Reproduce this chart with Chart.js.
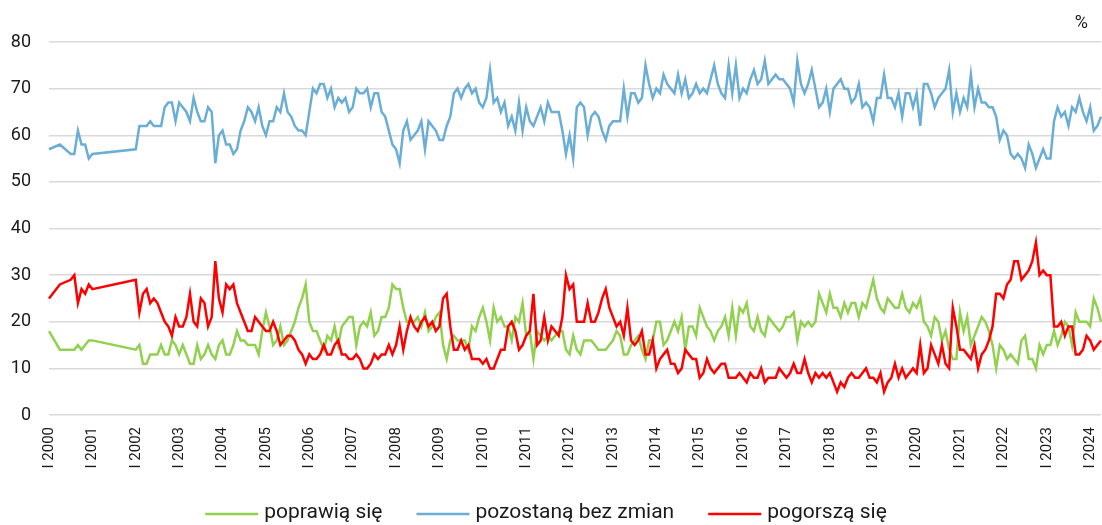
<!DOCTYPE html>
<html lang="pl">
<head>
<meta charset="utf-8">
<title>Oczekiwania gospodarstw domowych</title>
<script src="https://cdn.jsdelivr.net/npm/chart.js@4.4.1/dist/chart.umd.min.js"></script>
<style>
    html, body { margin: 0; padding: 0; background: #ffffff; }
    #wrap { position: relative; width: 1102px; height: 525px; }
</style>
</head>
<body>
<div id="wrap"><canvas id="expChart"></canvas></div>
<script>
// miesiące: I 2000 ... IV 2024
const firstYear = 2000;
const monthNames = ['I', 'II', 'III', 'IV', 'V', 'VI', 'VII', 'VIII', 'IX', 'X', 'XI', 'XII'];
const monthCount = 292;
const months = [];
for (let i = 0; i < monthCount; i++) {
    months.push(monthNames[i % 12] + ' ' + (firstYear + Math.floor(i / 12)));
}

const yTicks = [0, 10, 20, 30, 40, 50, 60, 70, 80];

// poprawią się
const better = [
    18, null, null, 14, null, null, 14, 14, 15, 14, 15, 16,
    16, null, null, null, null, null, null, null, null, null, null, null,
    14, 15, 11, 11, 13, 13, 13, 15, 13, 13, 16, 15,
    13, 15, 13, 11, 11, 15, 12, 13, 15, 13, 12, 15,
    16, 13, 13, 15, 18, 16, 16, 15, 15, 15, 13, 18,
    22, 19, 15, 16, 19, 15, 16, 18, 20, 23, 25, 28,
    20, 18, 18, 16, 14, 17, 16, 19, 15, 19, 20, 21,
    21, 15, 19, 20, 19, 22, 17, 18, 21, 21, 23, 28,
    27, 27, 23, 20, 20, 20, 21, 19, 22, 18, 19, 21,
    22, 15, 12, 16, 17, 16, 16, 16, 14, 19, 18, 21,
    23, 20, 16, 23, 20, 21, 19, 19, 16, 21, 20, 24,
    17, 18, 12, 18, 17, 16, 17, 16, 17, 18, 18, 14,
    13, 17, 14, 13, 16, 16, 16, 15, 14, 14, 14, 15,
    16, 18, 17, 13, 13, 15, 16, 17, 14, 12, 16, 16,
    20, 20, 15, 16, 18, 20, 18, 21, 14, 19, 19, 17,
    23, 21, 19, 18, 16, 18, 19, 21, 17, 23, 17, 23,
    22, 24, 19, 18, 21, 18, 17, 21, 20, 19, 18, 19,
    21, 21, 22, 16, 20, 19, 20, 19, 20, 26, 24, 22,
    26, 23, 23, 21, 24, 22, 24, 24, 21, 24, 23, 26,
    29, 25, 23, 22, 25, 24, 23, 23, 26, 23, 22, 24,
    23, 25, 20, 19, 17, 21, 20, 16, 18, 14, 12, 12,
    22, 18, 21, 15, 17, 19, 21, 20, 18, 15, 10, 15,
    14, 12, 13, 12, 11, 16, 17, 12, 12, 10, 15, 13,
    15, 15, 18, 15, 17, 20, 19, 15, 22, 20, 20, 20,
    19, 25, 23, 20
];

// pozostaną bez zmian
const same = [
    57, null, null, 58, null, null, 56, 56, 61, 58, 58, 55,
    56, null, null, null, null, null, null, null, null, null, null, null,
    57, 62, 62, 62, 63, 62, 62, 62, 66, 67, 67, 63,
    67, 66, 65, 63, 68, 65, 63, 63, 66, 65, 54, 60,
    61, 58, 58, 56, 57, 61, 63, 66, 65, 63, 66, 62,
    60, 63, 63, 66, 65, 69, 65, 64, 62, 61, 61, 60,
    65, 70, 69, 71, 71, 68, 70, 66, 68, 67, 68, 65,
    66, 70, 69, 69, 70, 66, 69, 69, 65, 64, 61, 58,
    57, 54, 61, 63, 59, 60, 61, 63, 57, 63, 62, 61,
    59, 59, 62, 64, 69, 70, 68, 70, 71, 69, 70, 67,
    66, 68, 74, 67, 68, 65, 67, 62, 64, 61, 67, 61,
    66, 63, 62, 64, 66, 63, 67, 65, 65, 65, 61, 56,
    60, 55, 66, 67, 66, 60, 64, 65, 64, 61, 59, 62,
    63, 63, 63, 70, 64, 69, 69, 67, 68, 75, 71, 68,
    70, 69, 73, 71, 70, 69, 73, 69, 72, 68, 69, 71,
    69, 70, 69, 72, 75, 71, 69, 68, 75, 69, 75, 68,
    70, 69, 72, 74, 71, 72, 76, 71, 72, 73, 72, 72,
    71, 70, 67, 76, 71, 69, 71, 74, 70, 66, 67, 70,
    65, 70, 71, 72, 70, 70, 67, 68, 71, 66, 67, 66,
    63, 68, 68, 73, 68, 68, 66, 69, 64, 69, 69, 66,
    69, 62, 71, 71, 69, 66, 68, 69, 70, 74, 65, 69,
    65, 68, 66, 73, 66, 70, 67, 67, 66, 66, 64, 59,
    61, 60, 56, 55, 56, 55, 53, 58, 56, 53, 55, 57,
    55, 55, 63, 66, 64, 65, 62, 66, 65, 68, 65, 63,
    66, 61, 62, 64
];

// pogorszą się
const worse = [
    25, null, null, 28, null, null, 29, 30, 24, 27, 26, 28,
    27, null, null, null, null, null, null, null, null, null, null, null,
    29, 22, 26, 27, 24, 25, 24, 22, 20, 19, 17, 21,
    19, 19, 21, 26, 20, 19, 25, 24, 19, 21, 33, 25,
    22, 28, 27, 28, 24, 22, 20, 18, 18, 21, 20, 19,
    18, 18, 20, 18, 15, 16, 17, 17, 16, 14, 13, 11,
    13, 12, 12, 13, 15, 13, 13, 15, 16, 13, 13, 12,
    12, 13, 12, 10, 10, 11, 13, 12, 13, 13, 15, 13,
    15, 19, 14, 18, 21, 19, 18, 20, 21, 19, 20, 18,
    19, 25, 26, 19, 14, 14, 16, 14, 15, 12, 12, 12,
    11, 12, 10, 10, 12, 14, 14, 19, 20, 18, 14, 15,
    17, 18, 26, 15, 16, 21, 16, 19, 18, 17, 21, 30,
    27, 28, 20, 20, 20, 24, 20, 20, 22, 25, 27, 23,
    21, 19, 20, 17, 23, 16, 15, 16, 18, 13, 13, 16,
    10, 12, 13, 14, 11, 11, 9, 10, 14, 13, 12, 12,
    8, 9, 12, 10, 9, 10, 11, 11, 8, 8, 8, 9,
    8, 7, 9, 8, 8, 10, 7, 8, 8, 8, 10, 9,
    8, 9, 11, 9, 9, 12, 9, 7, 9, 8, 9, 8,
    9, 7, 5, 7, 6, 8, 9, 8, 8, 9, 10, 8,
    8, 7, 9, 5, 7, 8, 11, 8, 10, 8, 9, 10,
    9, 15, 9, 10, 15, 13, 11, 15, 11, 10, 23, 19,
    14, 14, 13, 12, 15, 10, 13, 14, 16, 19, 26, 26,
    25, 28, 29, 33, 33, 29, 30, 31, 33, 37, 30, 31,
    30, 30, 19, 19, 20, 17, 19, 19, 13, 13, 14, 17,
    16, 14, 15, 16
];

const seriesNames = ['poprawią się', 'pozostaną bez zmian', 'pogorszą się'];
const seriesColors = ['#92d050', '#6aaed6', '#ff0000'];

// legenda i jednostka rysowane na płótnie
const extrasPlugin = {
    id: 'extras',
    afterDraw(chart) {
        const ctx = chart.ctx;
        ctx.save();

        // jednostka "%"
        ctx.font = '18px Roboto';
        ctx.fillStyle = '#1a1a1a';
        ctx.textAlign = 'right';
        ctx.textBaseline = 'middle';
        ctx.fillText('%', 1088, 23);

        // legenda
        ctx.font = '21px Roboto';
        ctx.textAlign = 'left';
        const lineLen = 53, gap = 6, spacing = 34, centre = 546, y = 513;
        const items = chart.data.datasets.map(ds => ({
            text: ds.label,
            color: ds.borderColor,
            w: ctx.measureText(ds.label).width
        }));
        let total = 0;
        items.forEach((it, i) => { total += lineLen + gap + it.w + (i ? spacing : 0); });
        let x = centre - total / 2;
        items.forEach(it => {
            ctx.strokeStyle = it.color;
            ctx.lineWidth = 2.5;
            ctx.beginPath();
            ctx.moveTo(x, y + 1);
            ctx.lineTo(x + lineLen, y + 1);
            ctx.stroke();
            ctx.fillStyle = '#1a1a1a';
            ctx.fillText(it.text, x + lineLen + gap, y);
            x += lineLen + gap + it.w + spacing;
        });
        ctx.restore();
    }
};

function initExpectationsChart() {
    const ctx = document.getElementById('expChart').getContext('2d');
    const values = [better, same, worse];

    new Chart(ctx, {
        type: 'line',
        data: {
            labels: months,
            datasets: values.map((data, i) => ({
                label: seriesNames[i],
                data: data,
                borderColor: seriesColors[i],
                backgroundColor: seriesColors[i],
                borderWidth: 2.5,
                pointRadius: 0,
                tension: 0,
                spanGaps: true,
                order: 2 - i
            }))
        },
        options: {
            responsive: true,
            maintainAspectRatio: false,
            animation: false,
            layout: {
                padding: { left: 10, right: 1, top: 42, bottom: 57 }
            },
            plugins: {
                legend: { display: false },
                title: { display: false },
                tooltip: { enabled: false }
            },
            scales: {
                x: {
                    offset: false,
                    grid: { display: false, drawTicks: false },
                    border: { display: false },
                    ticks: {
                        autoSkip: false,
                        maxRotation: 90,
                        minRotation: 90,
                        padding: 12,
                        color: '#1a1a1a',
                        font: { family: 'Roboto', size: 15 },
                        callback: function (value, index) {
                            return index % 12 === 0 ? this.getLabelForValue(value) : '';
                        }
                    },
                    afterFit(scale) {
                        scale.paddingLeft = 0;
                        scale.paddingRight = 0;
                        scale.height = 53;
                    }
                },
                y: {
                    min: yTicks[0],
                    max: yTicks[yTicks.length - 1],
                    grid: { color: '#d9d9d9', lineWidth: 1.5, drawTicks: false },
                    border: { display: false },
                    afterBuildTicks(scale) {
                        scale.ticks = yTicks.map(v => ({ value: v }));
                    },
                    afterFit(scale) {
                        scale.width = 39;
                    },
                    ticks: {
                        padding: 18,
                        color: '#1a1a1a',
                        font: { family: 'Roboto', size: 18 }
                    }
                }
            }
        },
        plugins: [extrasPlugin]
    });
}

document.addEventListener('DOMContentLoaded', initExpectationsChart);
</script>
</body>
</html>
